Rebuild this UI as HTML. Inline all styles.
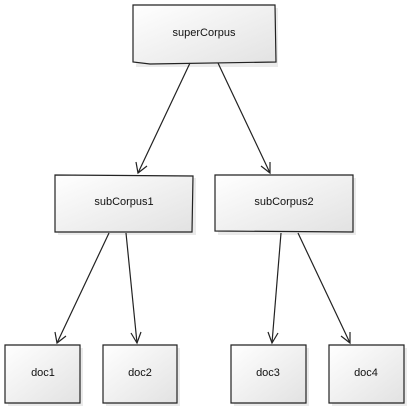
<!DOCTYPE html>
<html><head><meta charset="utf-8"><style>
html,body{margin:0;padding:0;background:#fff;}
svg{display:block;}
text{font-family:"Liberation Sans",sans-serif;font-size:11px;fill:#111;text-anchor:middle;}
</style></head><body>
<svg width="409" height="408" viewBox="0 0 409 408" xmlns="http://www.w3.org/2000/svg">
<defs>
<linearGradient id="g" x1="0" y1="0" x2="1" y2="1">
<stop offset="0" stop-color="#ffffff"/><stop offset="1" stop-color="#e2e2e2"/>
</linearGradient>
</defs>
<g stroke="#222" stroke-width="1.2">
<!-- shadows -->
<g fill="#ddd" stroke="none" opacity="0.6">
<rect x="136" y="8" width="142" height="59"/>
<rect x="58" y="178" width="138" height="57"/>
<rect x="218" y="178" width="138" height="57"/>
<rect x="8" y="348" width="75" height="58"/>
<rect x="106" y="348" width="74" height="58"/>
<rect x="234" y="348" width="75" height="58"/>
<rect x="332" y="348" width="75" height="58"/>
</g>
<path d="M133,5 L275,5 L276,62 L150,64 L133,62 Z" fill="url(#g)"/>
<path d="M55,175 L193,176 L192,232 L55,232 Z" fill="url(#g)"/>
<path d="M215,175 L353,175 L353,232 L215,231 Z" fill="url(#g)"/>
<path d="M5,345 L80,345 L80,403 L5,403 Z" fill="url(#g)"/>
<path d="M103,345 L177,345 L177,403 L103,403 Z" fill="url(#g)"/>
<path d="M231,345 L306,345 L306,403 L231,403 Z" fill="url(#g)"/>
<path d="M329,345 L404,345 L404,403 L329,403 Z" fill="url(#g)"/>
<!-- connectors -->
<g fill="none">
<line x1="190" y1="63" x2="138" y2="173"/>
<path d="M136,162 L138,173 L147,166"/>
<line x1="218" y1="63" x2="270" y2="173"/>
<path d="M261,166 L270,173 L270,162"/>
<line x1="109" y1="233" x2="57" y2="343"/>
<path d="M55,332 L57,343 L66,336"/>
<line x1="126" y1="233" x2="137" y2="343"/>
<path d="M131,333 L137,343 L141,332"/>
<line x1="281" y1="233" x2="272" y2="343"/>
<path d="M268,332 L272,343 L278,333"/>
<line x1="298" y1="233" x2="350" y2="343"/>
<path d="M341,336 L350,343 L350,332"/>
</g>
</g>
<text x="204" y="36">superCorpus</text>
<text x="124" y="205">subCorpus1</text>
<text x="284" y="205">subCorpus2</text>
<text x="43" y="376">doc1</text>
<text x="140" y="376">doc2</text>
<text x="268" y="376">doc3</text>
<text x="366" y="376">doc4</text>
</svg>
</body></html>
